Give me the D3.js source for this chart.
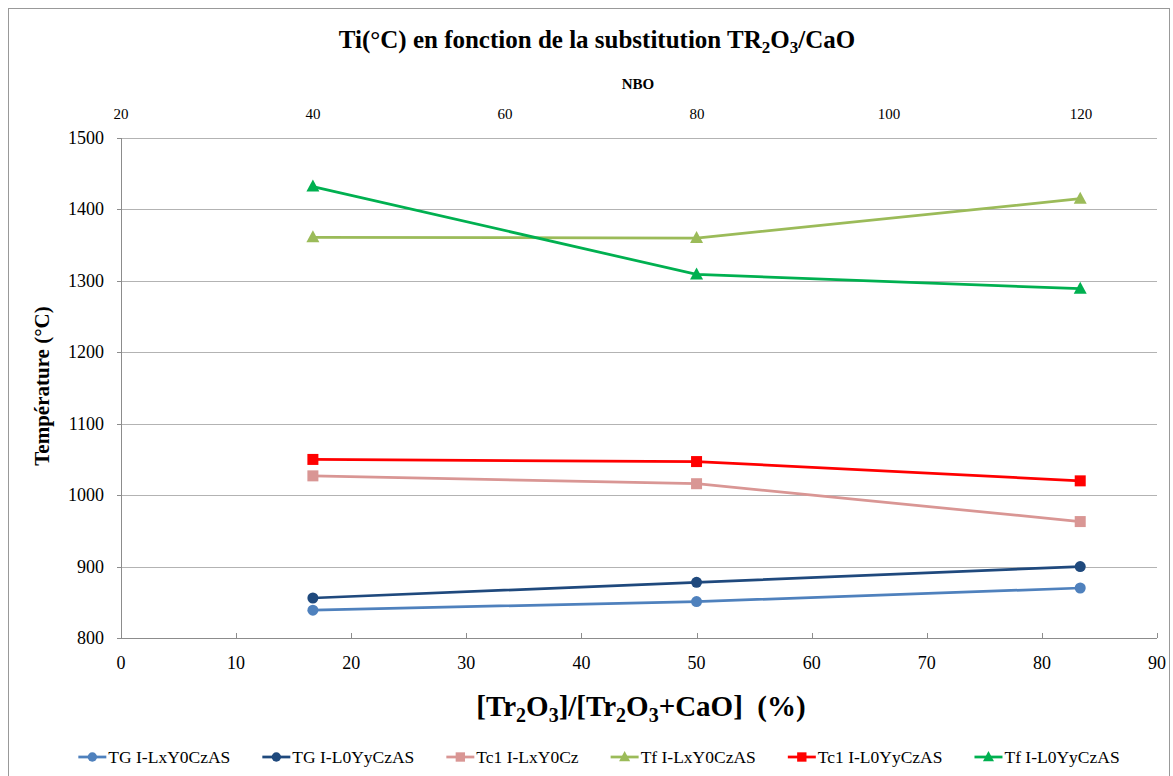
<!DOCTYPE html>
<html><head><meta charset="utf-8">
<script src="https://cdn.jsdelivr.net/npm/d3@7"></script>
<style>body{margin:0;background:#fff;} text{font-family:"Liberation Serif","DejaVu Serif",serif;}</style>
</head><body>
<svg id="c" width="1173" height="776"></svg>
<script>
const xValues = [16.67, 50, 83.33];
const seriesNames = ["TG I-LxY0CzAS","TG I-L0YyCzAS","Tc1 I-LxY0Cz","Tf I-LxY0CzAS","Tc1 I-L0YyCzAS","Tf I-L0YyCzAS"];
const tgLx = [839, 851, 870];
const tgL0 = [856, 878, 900];
const tc1Lx = [1027, 1016, 963];
const tfLx = [1361, 1360, 1415];
const tc1L0 = [1050, 1047, 1020];
const tfL0 = [1432, 1309, 1289];
const colors = ["#4F81BD","#1F497D","#D99694","#9BBB59","#FF0000","#00B050"];
const markers = ["circle","circle","square","triangle","square","triangle"];
const yTicks = [800,900,1000,1100,1200,1300,1400,1500];
const xTicks = [0,10,20,30,40,50,60,70,80,90];
const topTicks = [20,40,60,80,100,120];

const FONT = "'Liberation Serif','DejaVu Serif',serif";
const series = [tgLx,tgL0,tc1Lx,tfLx,tc1L0,tfL0];
const svg = d3.select("#c");
const L=121,R=1157,T=138,B=638;
const x = d3.scaleLinear().domain([0,90]).range([L,R]);
const y = d3.scaleLinear().domain([800,1500]).range([B,T]);
const xTop = d3.scaleLinear().domain([20,20+(R-L)/192*20]).range([L,R]);

svg.append("rect").attr("x",8.5).attr("y",8.5).attr("width",1161).attr("height",775).attr("fill","none").attr("stroke","#999");

// gridlines
svg.append("g").selectAll("line").data(yTicks.slice(1)).join("line")
  .attr("x1",L).attr("x2",R).attr("y1",d=>Math.round(y(d))+0.5).attr("y2",d=>Math.round(y(d))+0.5)
  .attr("stroke","#b3b3b3").attr("stroke-width",1);

// axes
const ax = svg.append("g");
ax.append("line").attr("x1",L+0.5).attr("x2",L+0.5).attr("y1",T).attr("y2",B).attr("stroke","#8c8c8c");
ax.append("line").attr("x1",L).attr("x2",R).attr("y1",B+0.5).attr("y2",B+0.5).attr("stroke","#8c8c8c");
ax.selectAll(".xt").data(xTicks).join("line").attr("class","xt")
  .attr("x1",d=>Math.round(x(d))+0.5).attr("x2",d=>Math.round(x(d))+0.5).attr("y1",B-5).attr("y2",B).attr("stroke","#8c8c8c");
ax.selectAll(".yt").data(yTicks).join("line").attr("class","yt")
  .attr("x1",L-4).attr("x2",L).attr("y1",d=>Math.round(y(d))+0.5).attr("y2",d=>Math.round(y(d))+0.5).attr("stroke","#8c8c8c");

svg.append("g").selectAll("text").data(yTicks).join("text").attr("font-family",FONT)
  .attr("x",104).attr("y",d=>y(d)+6).attr("text-anchor","end").attr("font-size",18).attr("fill","#000").text(d=>d);
svg.append("g").selectAll("text").data(xTicks).join("text").attr("font-family",FONT)
  .attr("x",d=>x(d)).attr("y",669).attr("text-anchor","middle").attr("font-size",18).text(d=>d);
svg.append("g").selectAll("text").data(topTicks).join("text").attr("font-family",FONT)
  .attr("x",d=>xTop(d)).attr("y",119).attr("text-anchor","middle").attr("font-size",15).text(d=>d);

// title
const title = svg.append("text").attr("font-family",FONT).attr("x",597).attr("y",48).attr("text-anchor","middle").attr("font-size",25).attr("font-weight","bold");
title.append("tspan").text("Ti(°C) en fonction de la substitution TR");
title.append("tspan").attr("font-size",17).attr("dy",5).text("2");
title.append("tspan").attr("dy",-5).text("O");
title.append("tspan").attr("font-size",17).attr("dy",5).text("3");
title.append("tspan").attr("dy",-5).text("/CaO");

svg.append("text").attr("font-family",FONT).attr("x",638).attr("y",89).attr("text-anchor","middle").attr("font-size",15).attr("font-weight","bold").text("NBO");

svg.append("text").attr("font-family",FONT).attr("transform","translate(49,386) rotate(-90)").attr("text-anchor","middle").attr("font-size",21).attr("font-weight","bold").text("Température (°C)");

const xl = svg.append("text").attr("font-family",FONT).attr("x",641).attr("y",716).attr("text-anchor","middle").attr("font-size",29).attr("font-weight","bold").attr("xml:space","preserve");
xl.append("tspan").text("[Tr");
xl.append("tspan").attr("font-size",20).attr("dy",6).text("2");
xl.append("tspan").attr("dy",-6).text("O");
xl.append("tspan").attr("font-size",20).attr("dy",6).text("3");
xl.append("tspan").attr("dy",-6).text("]/[Tr");
xl.append("tspan").attr("font-size",20).attr("dy",6).text("2");
xl.append("tspan").attr("dy",-6).text("O");
xl.append("tspan").attr("font-size",20).attr("dy",6).text("3");
xl.append("tspan").attr("dy",-6).text("+CaO]  (%)");

function drawMarker(g, type, cx, cy, color, s){
  if(type==="circle") g.append("circle").attr("cx",cx).attr("cy",cy).attr("r",5.5*s).attr("fill",color);
  else if(type==="square") g.append("rect").attr("x",cx-5.5*s).attr("y",cy-5.5*s).attr("width",11*s).attr("height",11*s).attr("fill",color);
  else g.append("path").attr("d",`M${cx},${cy-7*s}L${cx+6.5*s},${cy+5*s}L${cx-6.5*s},${cy+5*s}Z`).attr("fill",color);
}

const line = d3.line().x((d,i)=>x(xValues[i])).y(d=>y(d));
series.forEach((s,k)=>{
  const g = svg.append("g");
  g.append("path").attr("d",line(s)).attr("fill","none").attr("stroke",colors[k]).attr("stroke-width",2.75);
  s.forEach((v,i)=>drawMarker(g, markers[k], x(xValues[i]), y(v), colors[k], 1));
});

// legend
const lg = svg.append("g");
let lx = 0;
seriesNames.forEach((n,k)=>{
  const it = lg.append("g");
  it.append("line").attr("x1",0).attr("x2",28).attr("y1",0).attr("y2",0).attr("stroke",colors[k]).attr("stroke-width",2.75);
  drawMarker(it, markers[k], 14, 0, colors[k], 0.85);
  const t = it.append("text").attr("font-family",FONT).attr("x",30).attr("y",6).attr("font-size",17.5).text(n);
  const w = 30 + t.node().getComputedTextLength();
  it.attr("transform",`translate(${lx},757)`);
  lx += w + 32;
});
const total = lx - 32;
lg.attr("transform",`translate(${599 - total/2},0)`);
</script>
</body></html>
